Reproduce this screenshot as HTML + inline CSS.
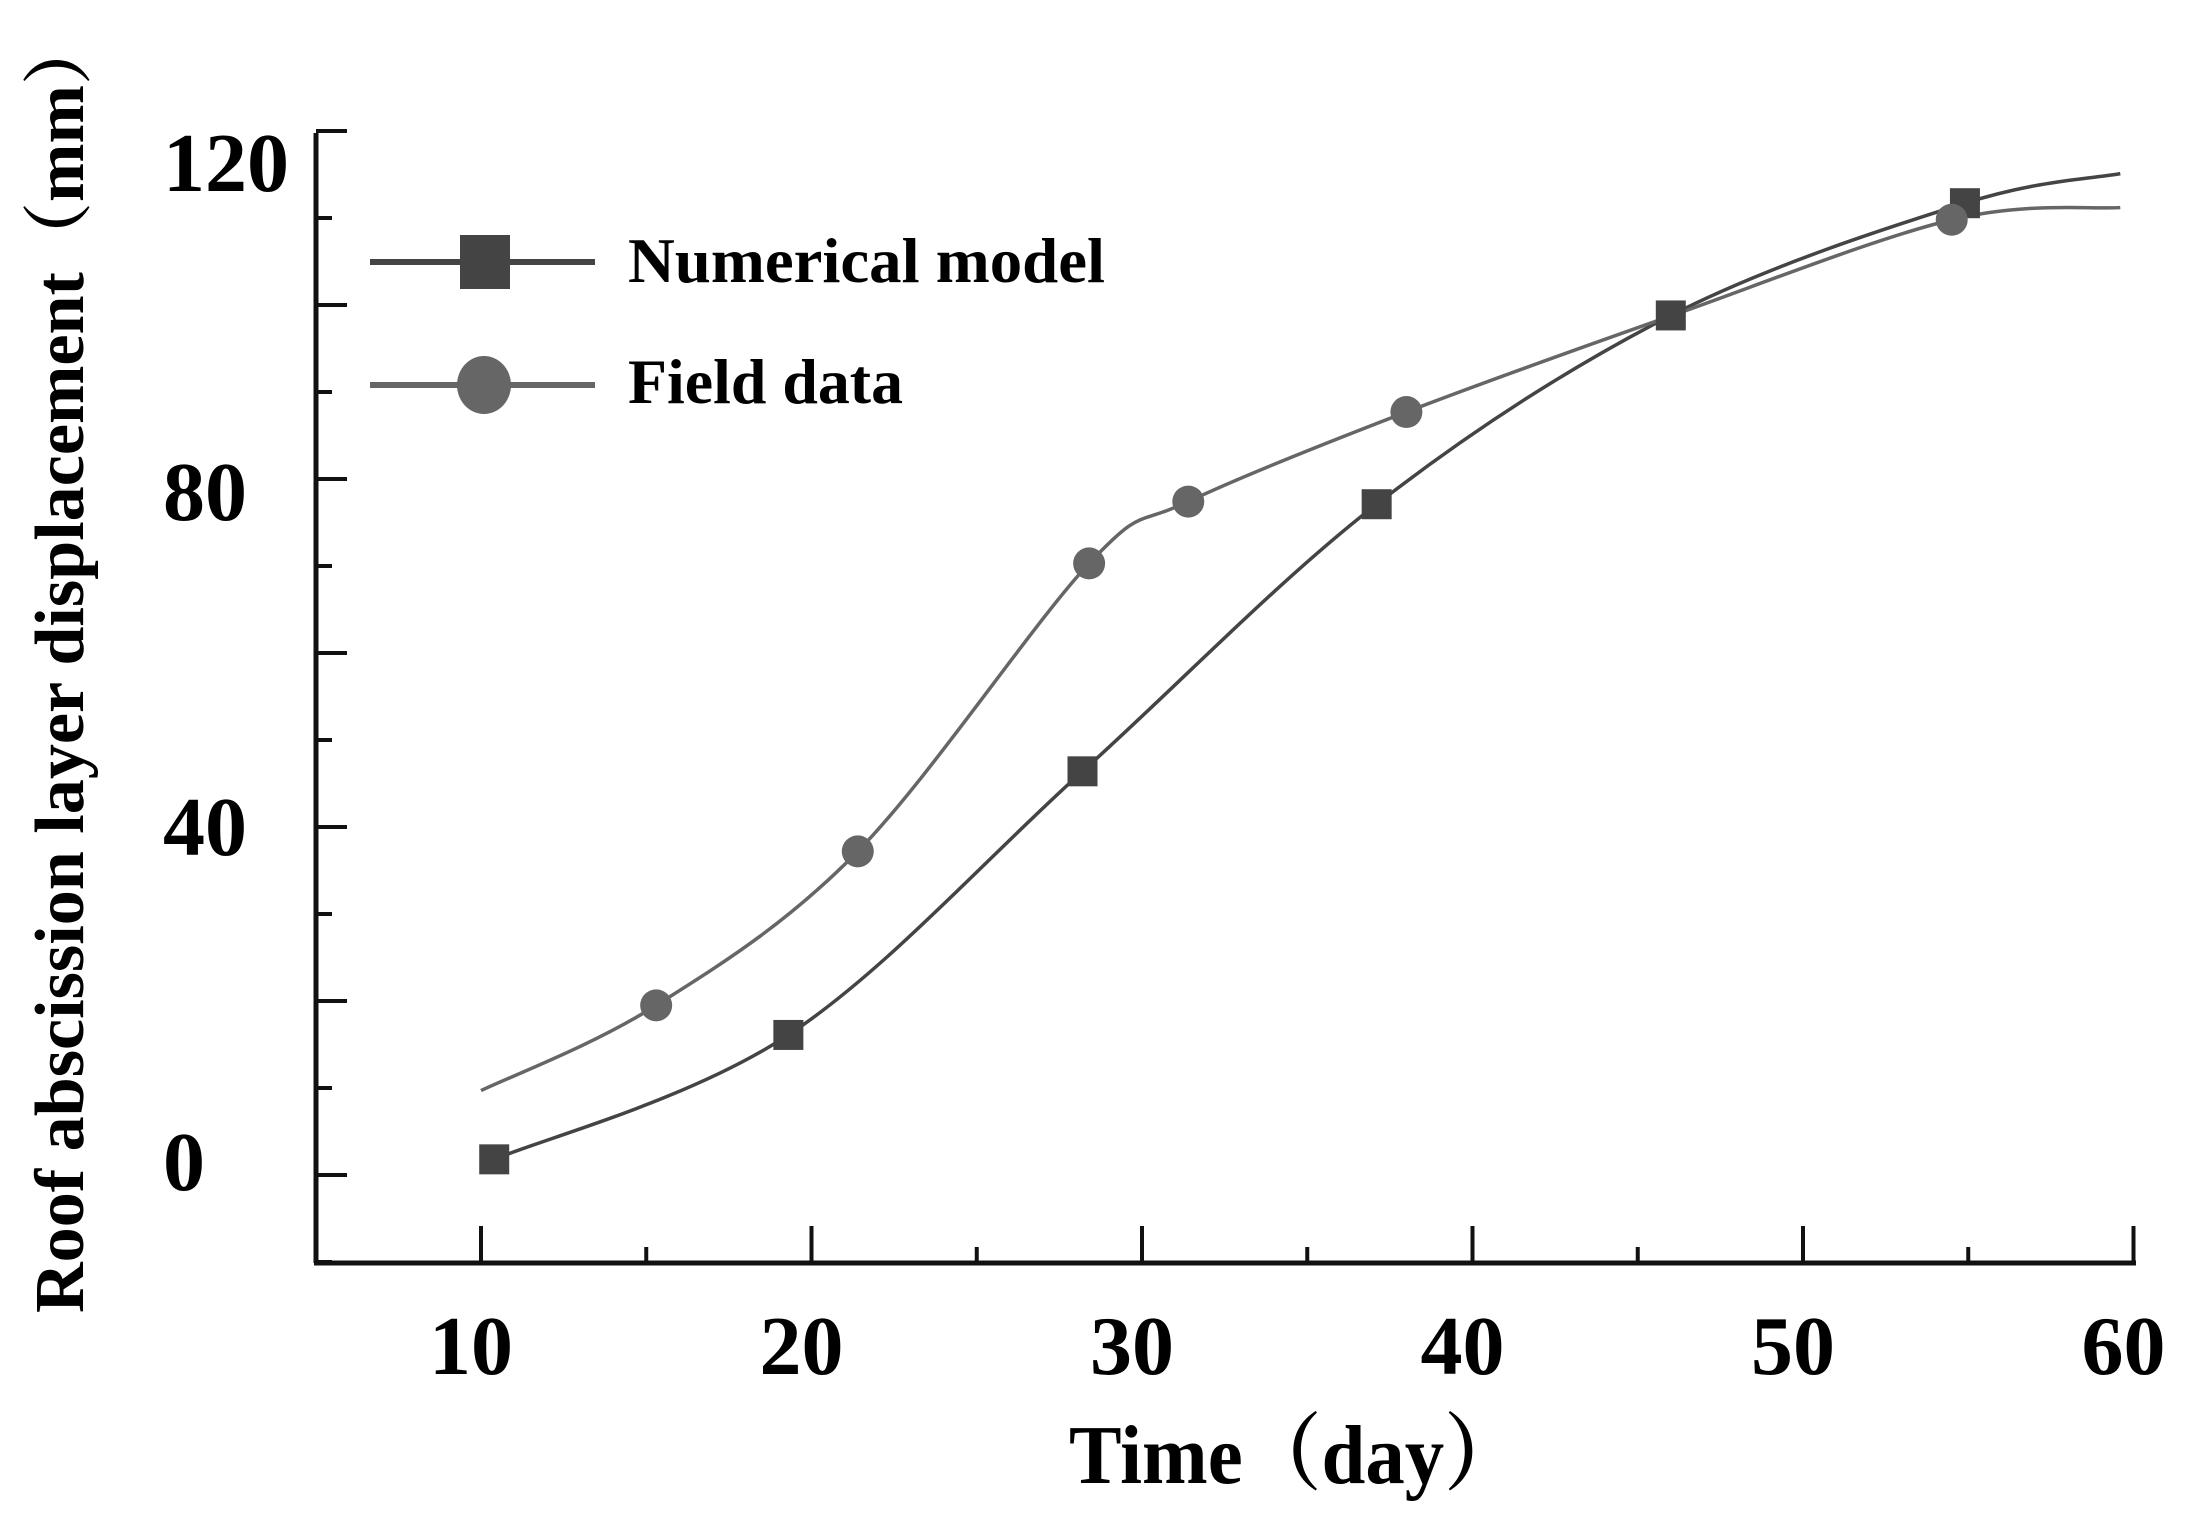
<!DOCTYPE html>
<html><head><meta charset="utf-8">
<style>
html,body{margin:0;padding:0;background:#fff;}
svg{display:block;}
text{font-family:"Liberation Serif","Noto Serif CJK SC",serif;font-weight:bold;fill:#000;}
</style></head>
<body>
<svg id="chart" width="2190" height="1528" viewBox="0 0 2190 1528" xmlns="http://www.w3.org/2000/svg">
  <g id="axes"></g>
  <g id="series"></g>
  <g id="legend">
    <line x1="370" y1="262" x2="595" y2="262" stroke="#444" stroke-width="6"/>
    <rect x="460" y="235" width="50" height="54" fill="#444"/>
    <text x="628" y="282" font-size="64" textLength="477" lengthAdjust="spacingAndGlyphs">Numerical model</text>
    <line x1="370" y1="385" x2="595" y2="385" stroke="#666" stroke-width="6"/>
    <ellipse cx="484" cy="385" rx="27" ry="29" fill="#666"/>
    <text x="628" y="403" font-size="64" textLength="275" lengthAdjust="spacingAndGlyphs">Field data</text>
  </g>
  <text x="1069" y="1483" font-size="84" textLength="454" lengthAdjust="spacingAndGlyphs">Time（day）</text>
  <text transform="translate(83,1313) rotate(-90)" x="0" y="0" font-size="70" textLength="1298" lengthAdjust="spacingAndGlyphs">Roof abscission layer displacement（mm）</text>
</svg>
<script>
const xTicks = [10,15,20,25,30,35,40,45,50,55,60];
const xLabels = ["10","20","30","40","50","60"];
const yTicks = [-10,0,10,20,30,40,50,60,70,80,90,100,110,120];
const yLabels = ["0","40","80","120"];
const numX = [10.4,19.3,28.2,37.1,46.0,54.9];
const numY = [1.8,16.1,46.4,77.1,98.8,111.7];
const numEndX = [59.6];
const numEndY = [115.1];
const fieldX = [15.3,21.4,28.4,31.4,38.0,54.5];
const fieldY = [19.5,37.2,70.3,77.4,87.7,109.8];
const fieldStartX = [10.0];
const fieldStartY = [9.7];
const fieldMidX = [45.9];
const fieldMidY = [98.6];
const fieldEndX = [59.6];
const fieldEndY = [111.2];

const NS="http://www.w3.org/2000/svg";
const X = v => 481 + (v-10)*33.05;
const Y = v => 1175 - v*8.7;
function mk(tag, attrs, parent){const e=document.createElementNS(NS,tag);for(const k in attrs)e.setAttribute(k,attrs[k]);parent.appendChild(e);return e;}
const axes=document.getElementById('axes'), series=document.getElementById('series');

let e=mk('line',{x1:316,y1:133,x2:316,y2:1263,stroke:'#111','stroke-width':5},axes);


e=mk('line',{x1:314,y1:1263,x2:2136,y2:1263,stroke:'#111','stroke-width':5},axes);



xTicks.forEach(v=>{
  const major = v%10===0;
  const t=mk('line',{x1:X(v),y1:1263,x2:X(v),y2:major?1226:1247,stroke:'#111','stroke-width':4},axes);
  
  
});
xLabels.forEach(s=>{
  const t=mk('text',{x:X(+s)-10,y:1374,'font-size':84,'text-anchor':'middle'},axes);
  t.textContent=s;
  
  
});
yTicks.forEach(v=>{
  const major = v%20===0;
  const t=mk('line',{x1:316,y1:Y(v),x2:major?347:332,y2:Y(v),stroke:'#111','stroke-width':4},axes);
  
  
});
yLabels.forEach(s=>{
  const v=+s;
  const t=mk('text',{x:163,y:Y(v)+ (v===120?60:(v===80?41:(v===40?28:15))),'font-size':84},axes);
  t.textContent=s;
  
  
});

function spline(pts){
  let d=`M${pts[0][0]},${pts[0][1]}`;
  for(let i=0;i<pts.length-1;i++){
    const p0=pts[Math.max(0,i-1)],p1=pts[i],p2=pts[i+1],p3=pts[Math.min(pts.length-1,i+2)];
    const c1=[p1[0]+(p2[0]-p0[0])/6,p1[1]+(p2[1]-p0[1])/6];
    const c2=[p2[0]-(p3[0]-p1[0])/6,p2[1]-(p3[1]-p1[1])/6];
    d+=` C${c1[0]},${c1[1]} ${c2[0]},${c2[1]} ${p2[0]},${p2[1]}`;
  }
  return d;
}
// numerical
const nPts=numX.map((x,i)=>[X(x),Y(numY[i])]).concat(numEndX.map((x,i)=>[X(x),Y(numEndY[i])]));
e=mk('path',{d:spline(nPts),fill:'none',stroke:'#444','stroke-width':3.5},series);


// field
const fAll=[];
fieldStartX.forEach((x,i)=>fAll.push([fieldStartX[i],fieldStartY[i]]));
fieldX.forEach((x,i)=>fAll.push([x,fieldY[i]]));
fieldMidX.forEach((x,i)=>fAll.push([x,fieldMidY[i]]));
fieldEndX.forEach((x,i)=>fAll.push([x,fieldEndY[i]]));
fAll.sort((a,b)=>a[0]-b[0]);
e=mk('path',{d:spline(fAll.map(p=>[X(p[0]),Y(p[1])])),fill:'none',stroke:'#666','stroke-width':3.5},series);



numX.forEach((x,i)=>{
  const m=mk('rect',{x:X(x)-15,y:Y(numY[i])-15,width:30,height:30,fill:'#444'},series);
  
  
});
fieldX.forEach((x,i)=>{
  const m=mk('circle',{cx:X(x),cy:Y(fieldY[i]),r:16,fill:'#666'},series);
  
  
});
</script>
</body></html>
